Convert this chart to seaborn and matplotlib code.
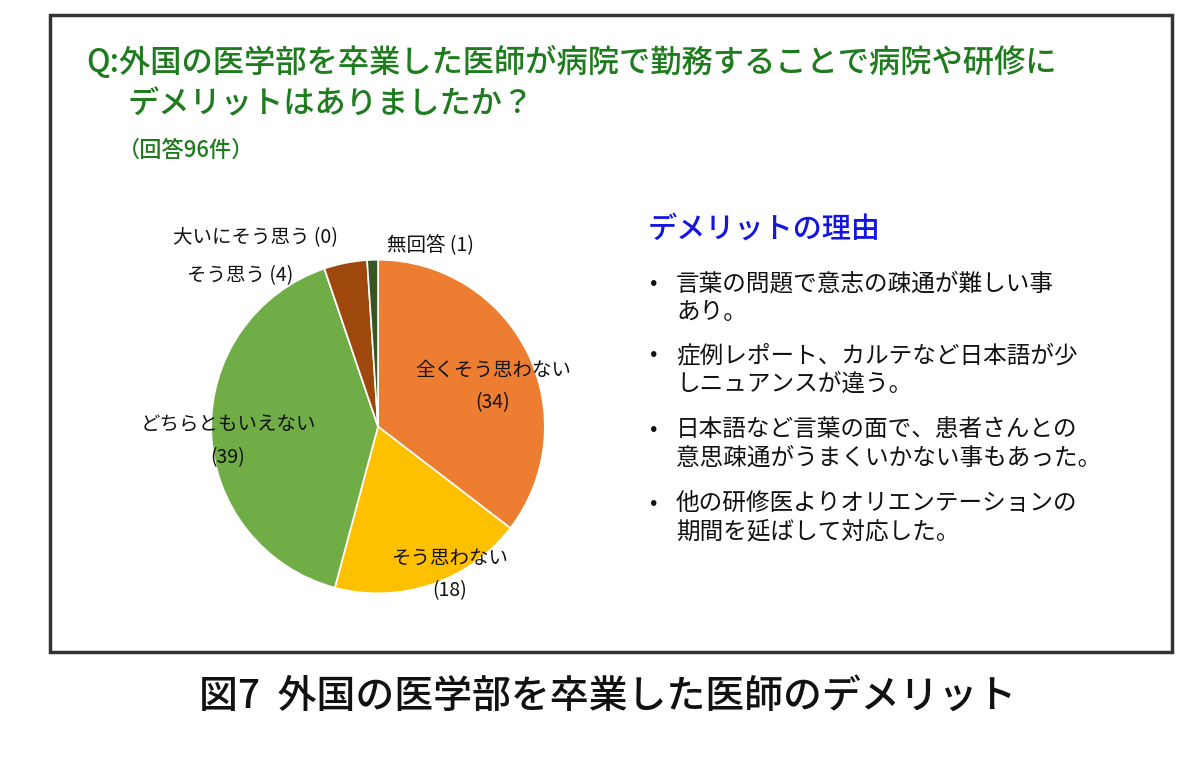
import matplotlib
matplotlib.use("Agg")
import matplotlib.pyplot as plt
from matplotlib.patches import Rectangle
import seaborn as sns

sns.set_theme(style="white", font="Noto Sans CJK JP")
FONT = "Noto Sans CJK JP"

categories = ["全くそう思わない", "そう思わない", "どちらともいえない", "大いにそう思う", "そう思う", "無回答"]
values = [34, 18, 39, 0, 4, 1]
colors = ["#ED7D31", "#FFC000", "#70AD47", "#C00000", "#9E480E", "#375623"]
reasons = [
    "言葉の問題で意志の疎通が難しい事\nあり。",
    "症例レポート、カルテなど日本語が少\nしニュアンスが違う。",
    "日本語など言葉の面で、患者さんとの\n意思疎通がうまくいかない事もあった。",
    "他の研修医よりオリエンテーションの\n期間を延ばして対応した。",
]

fig = plt.figure(figsize=(12, 7.61), dpi=100)
fig.patch.set_facecolor("white")
fig.add_artist(Rectangle((50/1200, 1-652/761), 1122/1200, 637/761, transform=fig.transFigure,
                         fill=False, edgecolor="#333333", linewidth=2.5))

ax = fig.add_axes([0.176, 0.22, 0.278, 0.439])
ax.pie(values, colors=colors, startangle=90, counterclock=False, radius=1.0,
       wedgeprops=dict(edgecolor="white", linewidth=1.2))
ax.set_xlim(-1, 1)
ax.set_ylim(-1, 1)
ax.set_aspect("equal")
ax.axis("off")

def ft(x, y, s, **kw):
    fig.text(x/1200, 1-y/761, s, fontfamily=FONT, **kw)

green = "#1E7B1E"
ft(86, 62, "Q:外国の医学部を卒業した医師が病院で勤務することで病院や研修に", fontsize=22.5, color=green, va="center", fontweight="medium")
ft(128, 104, "デメリットはありましたか？", fontsize=22.5, color=green, va="center", fontweight="medium")
ft(118, 150, "（回答96件）", fontsize=16, color=green, va="center", fontweight="medium")

lab = dict(fontsize=14, color="#111111", ha="center", va="center")
ft(493, 370, "全くそう思わない", **lab)
ft(493, 403, "(34)", **lab)
ft(450, 558, "そう思わない", **lab)
ft(450, 591, "(18)", **lab)
ft(228, 425, "どちらともいえない", **lab)
ft(228, 458, "(39)", **lab)
ft(255, 238, "大いにそう思う (0)", **lab)
ft(240, 276, "そう思う (4)", **lab)
ft(430, 246, "無回答 (1)", **lab)

ft(648, 229, "デメリットの理由", fontsize=21, color="#1515E0", va="center", fontweight="medium")
ys = [298, 370, 444, 518]
for y, r in zip(ys, reasons):
    ft(650, y - 15, "•", fontsize=16, color="#111111", va="center")
    ft(676, y, r, fontsize=17, color="#111111", va="center", linespacing=1.3)

ft(608, 697, "図7  外国の医学部を卒業した医師のデメリット", fontsize=28, color="#111111", ha="center", va="center", fontweight="medium")

fig.savefig("out.png", dpi=100, facecolor="white")
